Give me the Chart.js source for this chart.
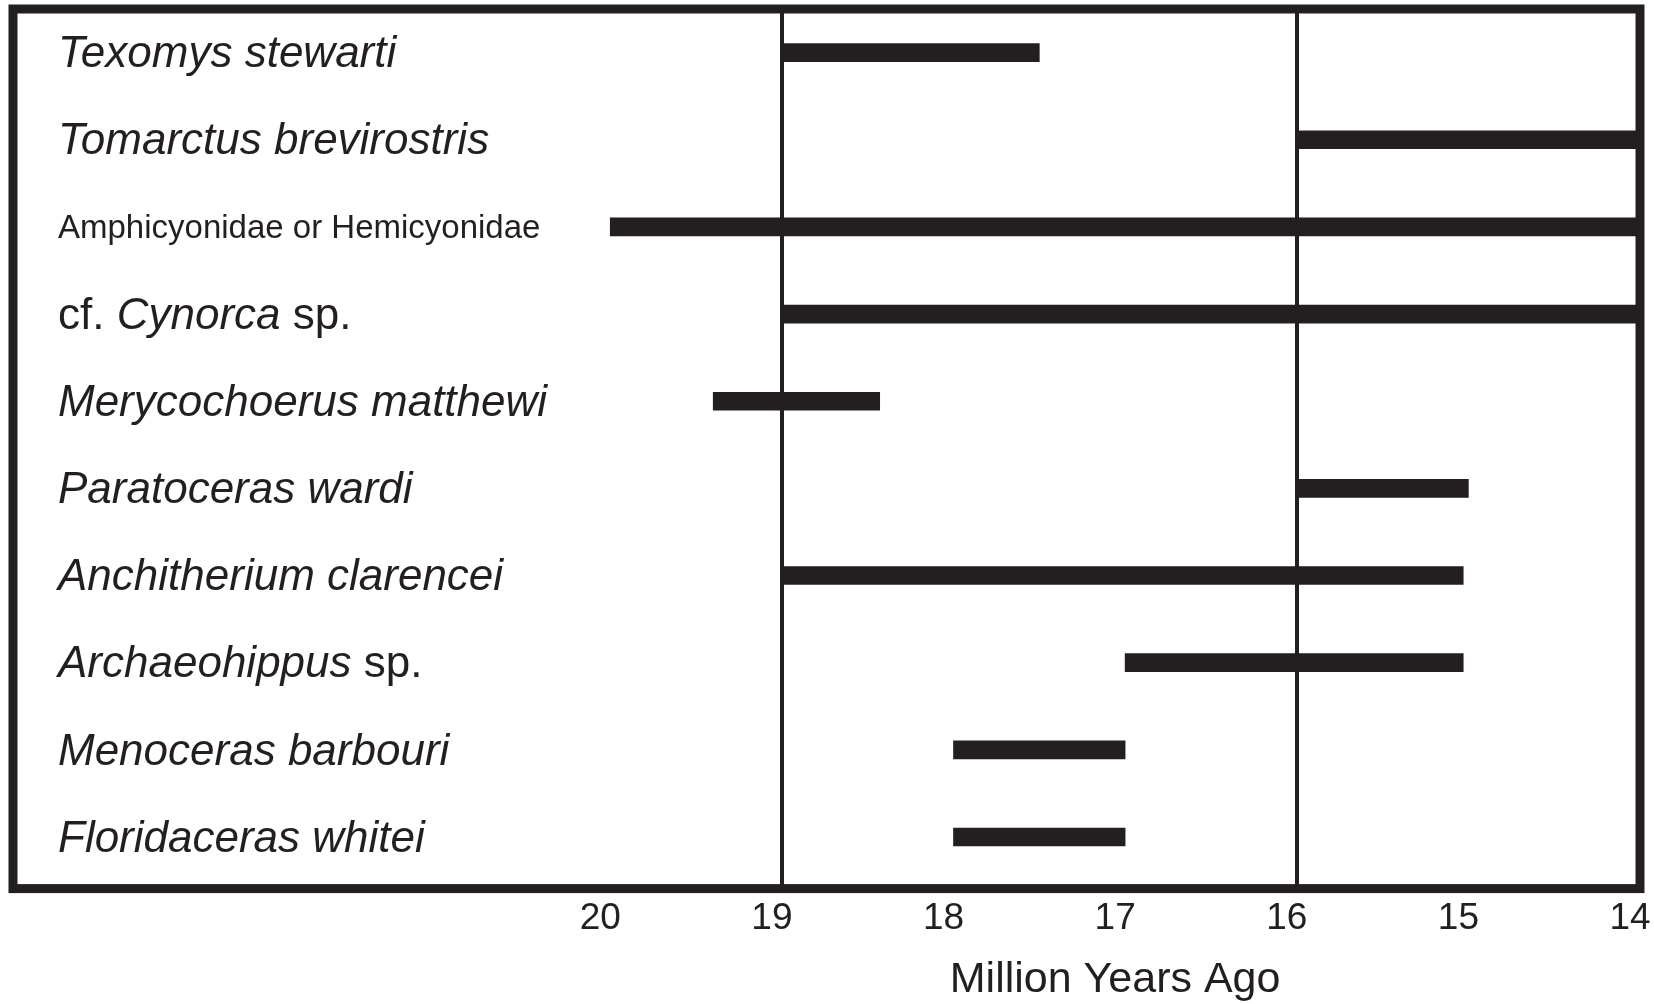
<!DOCTYPE html>
<html>
<head>
<meta charset="utf-8">
<title>Faunal age ranges</title>
<script src="https://cdn.jsdelivr.net/npm/chart.js@4.4.1/dist/chart.umd.min.js"></script>
<style>
    html, body { margin: 0; padding: 0; background: #fff; }
    #wrap { width: 1654px; height: 1004px; }
</style>
</head>
<body>
<div id="wrap"><canvas id="ranges"></canvas></div>
<script>
// Taxa, top to bottom
const taxa = [
    'Texomys stewarti',
    'Tomarctus brevirostris',
    'Amphicyonidae or Hemicyonidae',
    'cf. Cynorca sp.',
    'Merycochoerus matthewi',
    'Paratoceras wardi',
    'Anchitherium clarencei',
    'Archaeohippus sp.',
    'Menoceras barbouri',
    'Floridaceras whitei'
];
// Age range of each taxon, million years ago (older end / younger end)
const rangeOldest = [19, 16, 20, 19, 19.4, 16, 19, 17, 18, 18];
const rangeYoungest = [17.5, 14, 14, 14, 18.43, 15, 15.03, 15.03, 17, 17];

const xTicks = [20, 19, 18, 17, 16, 15, 14];
const markerLines = [19, 16];
const axisTitle = 'Million Years Ago';

const INK = '#231f20';
const FONT = "'Liberation Sans', Arial, Helvetica, sans-serif";

// words printed upright; family-level rows are upright and smaller
const uprightWords = ['cf.', 'sp.'];
const familyRows = ['Amphicyonidae or Hemicyonidae'];

// Row names drawn inside the frame, with mixed italic/roman words
const taxonLabels = {
    id: 'taxonLabels',
    afterDatasetsDraw(chart) {
        const ctx = chart.ctx;
        const yScale = chart.scales.y;
        ctx.save();
        ctx.fillStyle = INK;
        ctx.textBaseline = 'alphabetic';
        taxa.forEach((name, i) => {
            const family = familyRows.includes(name);
            const size = family ? 33 : 44;
            const y = yScale.getPixelForValue(i) + size * 0.716 / 2 - 1;
            let x = chart.chartArea.left + 45;
            name.split(' ').forEach(word => {
                const italic = !family && !uprightWords.includes(word);
                ctx.font = (italic ? 'italic ' : '') + size + 'px ' + FONT;
                ctx.fillText(word, x, y);
                x += ctx.measureText(word + ' ').width;
            });
        });
        ctx.restore();
    }
};

// Heavy box round the plot
const frame = {
    id: 'frame',
    afterDraw(chart) {
        const { left, top, right, bottom } = chart.chartArea;
        const ctx = chart.ctx;
        ctx.save();
        ctx.strokeStyle = INK;
        ctx.lineWidth = 9;
        ctx.strokeRect(left, top, right - left, bottom + 8 - top);
        ctx.restore();
    }
};

// Axis title, centred under the tick labels (not the whole plot)
const xTitle = {
    id: 'xTitle',
    afterDraw(chart) {
        const ctx = chart.ctx;
        const x = chart.scales.x.getPixelForValue(17) - 10;
        ctx.save();
        ctx.fillStyle = INK;
        ctx.font = '43px ' + FONT;
        ctx.textAlign = 'center';
        ctx.textBaseline = 'alphabetic';
        ctx.fillText(axisTitle, x, chart.height - 12);
        ctx.restore();
    }
};

new Chart(document.getElementById('ranges'), {
    type: 'bar',
    data: {
        labels: taxa,
        datasets: [{
            data: taxa.map((_, i) => [rangeOldest[i], rangeYoungest[i]]),
            backgroundColor: INK,
            barThickness: 18,
            borderSkipped: false
        }]
    },
    options: {
        indexAxis: 'y',
        responsive: true,
        maintainAspectRatio: false,
        animation: false,
        layout: { padding: { left: 13, right: 14, top: 9, bottom: 55 } },
        plugins: {
            legend: { display: false },
            tooltip: { enabled: false }
        },
        scales: {
            x: {
                type: 'linear',
                reverse: true,
                min: 14,
                max: 23.48,
                afterBuildTicks: scale => {
                    scale.ticks = xTicks.map(v => ({ value: v }));
                },
                afterFit: scale => {
                    scale.paddingLeft = 0;
                    scale.paddingRight = 0;
                },
                border: { display: false },
                grid: {
                    color: c => (c.tick && markerLines.includes(c.tick.value)) ? INK : 'transparent',
                    lineWidth: 4,
                    drawTicks: true,
                    tickLength: 8
                },
                ticks: {
                    color: INK,
                    font: { family: FONT, size: 37 },
                    padding: 8,
                    labelOffset: -10,
                    maxRotation: 0,
                    autoSkip: false
                }
            },
            y: { display: false }
        }
    },
    plugins: [taxonLabels, frame, xTitle]
});
</script>
</body>
</html>
